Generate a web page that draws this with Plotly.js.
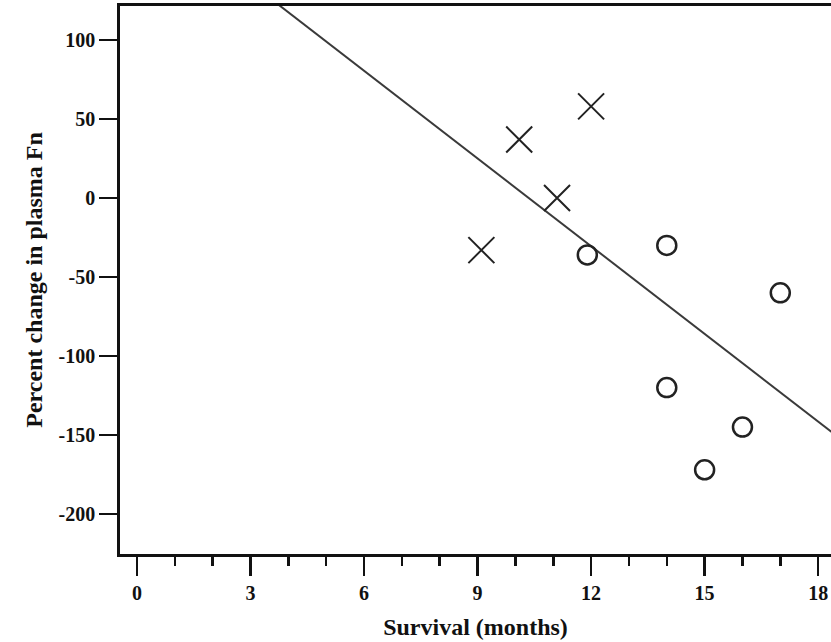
<!DOCTYPE html>
<html>
<head>
<meta charset="utf-8">
<script src="https://cdn.plot.ly/plotly-3.0.1.min.js"></script>
<style>html,body{margin:0;padding:0;background:#fff;}#chart{width:831px;height:642px;}</style>
</head>
<body>
<div id="chart"></div>
<script>
// Group 1 (crosses)
const crossSurvival = [9.1, 10.1, 11.1, 12.0];
const crossChange = [-33, 37, 0, 58];
// Group 2 (circles)
const circleSurvival = [11.9, 14.0, 17.0, 14.0, 16.0, 15.0];
const circleChange = [-36, -30, -60, -120, -145, -172];
// Fitted line end points
const fitSurvival = [3.0, 19.0];
const fitChange = [136, -160];
// Tick labels
const xTickVals = [0, 3, 6, 9, 12, 15, 18];
const xTickText = ["0", "3", "6", "9", "12", "15", "18"];
const yTickVals = [100, 50, 0, -50, -100, -150, -200];
const yTickText = ["100", "50", "0", "-50", "-100", "-150", "-200"];

const ink = '#222';
const fontFam = '"Liberation Serif", "Times New Roman", serif';

const traces = [
  {x: fitSurvival, y: fitChange, mode: 'lines', line: {color: '#3a3a3a', width: 2}, showlegend: false, hoverinfo: 'skip'},
  {x: crossSurvival, y: crossChange, mode: 'markers', showlegend: false,
   marker: {symbol: 'x-thin-open', size: 26, color: ink, line: {color: ink, width: 2}}},
  {x: circleSurvival, y: circleChange, mode: 'markers', showlegend: false,
   marker: {symbol: 'circle-open', size: 19, color: ink, line: {color: ink, width: 2.5}}}
];

const layout = {
  width: 831, height: 642,
  margin: {l: 120, r: 0, t: 6, b: 88},
  paper_bgcolor: '#fff', plot_bgcolor: '#fff',
  font: {family: fontFam, color: '#111'},
  xaxis: {
    range: [-0.45, 18.34],
    tickvals: xTickVals, ticktext: xTickText,
    ticks: 'outside', ticklen: 19, tickwidth: 2.5, tickcolor: '#111',
    minor: {dtick: 1, tick0: 0, ticks: 'outside', ticklen: 9, tickwidth: 2.5, tickcolor: '#111'},
    showline: true, linewidth: 2.8, linecolor: '#111', mirror: true,
    showgrid: false, zeroline: false,
    tickfont: {family: fontFam, size: 20, color: '#111', weight: 'bold'},
    title: {text: '<b>Survival (months)</b>', font: {family: fontFam, size: 24, color: '#111'}, standoff: 16}
  },
  yaxis: {
    range: [-225.3, 121.5],
    tickvals: yTickVals, ticktext: yTickText,
    ticks: 'outside', ticklen: 18, tickwidth: 2.5, tickcolor: '#111',
    showline: true, linewidth: 2.8, linecolor: '#111',
    showgrid: false, zeroline: false,
    tickfont: {family: fontFam, size: 20, color: '#111', weight: 'bold'},
    title: {text: '<b>Percent change in plasma Fn</b>', font: {family: fontFam, size: 24, color: '#111'}, standoff: 10}
  }
};

Plotly.newPlot('chart', traces, layout, {displayModeBar: false, staticPlot: true});
</script>
</body>
</html>
